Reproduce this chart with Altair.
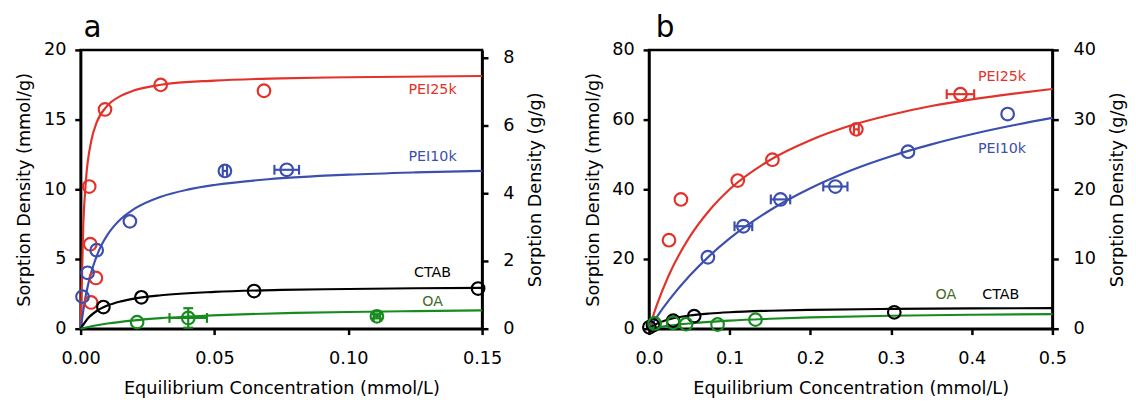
import altair as alt
import pandas as pd

FONT = "DejaVu Sans"
RED = "#e3322a"
BLUE = "#3c4fae"
BLACK = "#000000"
GREEN = "#168c1e"
OA_LABEL = "#3f6b26"
SERIES = ["PEI25k", "PEI10k", "CTAB", "OA"]
COLORS = [RED, BLUE, BLACK, GREEN]

# ---------------- Panel a data ----------------
A_PEI25K_X = [0.0032, 0.0036, 0.0057, 0.0039, 0.0091, 0.0299, 0.0685]
A_PEI25K_Y = [10.2, 6.06, 3.64, 1.88, 15.73, 17.49, 17.07]
A_PEI10K_X = [0.0007, 0.0026, 0.0060, 0.0184, 0.0539, 0.0770]
A_PEI10K_Y = [2.30, 4.01, 5.63, 7.70, 11.32, 11.40]
A_PEI10K_XERR = [0, 0, 0, 0, 0.0008, 0.0046]
A_CTAB_X = [0.0085, 0.0227, 0.0648, 0.1485]
A_CTAB_Y = [1.55, 2.25, 2.70, 2.88]
A_OA_X = [0.0211, 0.0402, 0.1107]
A_OA_Y = [0.47, 0.77, 0.89]
A_OA_XERR = [0, 0.0070, 0.0012]
A_OA_YERR = [0, 0.70, 0.15]

A_FIT_PEI25K_X = [0, 0.001, 0.002, 0.004, 0.006, 0.010, 0.015, 0.020, 0.030, 0.050, 0.075, 0.100, 0.150]
A_FIT_PEI25K_Y = [0, 7.5, 10.7, 13.5, 14.8, 16.0, 16.7, 17.1, 17.5, 17.8, 17.96, 18.04, 18.13]
A_FIT_PEI10K_X = [0, 0.002, 0.004, 0.006, 0.008, 0.010, 0.015, 0.020, 0.030, 0.040, 0.050, 0.070, 0.100, 0.125, 0.150]
A_FIT_PEI10K_Y = [0, 2.46, 4.07, 5.21, 6.07, 6.73, 7.87, 8.59, 9.47, 9.98, 10.31, 10.72, 11.05, 11.21, 11.32]
A_FIT_CTAB_X = [0, 0.003, 0.006, 0.010, 0.015, 0.020, 0.030, 0.050, 0.075, 0.100, 0.125, 0.150]
A_FIT_CTAB_Y = [0, 0.80, 1.27, 1.66, 1.96, 2.16, 2.40, 2.64, 2.78, 2.85, 2.90, 2.93]
A_FIT_OA_X = [0, 0.005, 0.010, 0.020, 0.030, 0.040, 0.060, 0.080, 0.100, 0.125, 0.150]
A_FIT_OA_Y = [0, 0.21, 0.37, 0.60, 0.76, 0.87, 1.03, 1.13, 1.20, 1.26, 1.31]

A_LABEL_TEXT = ["PEI25k", "PEI10k", "CTAB", "OA"]
A_LABEL_X = [0.1315, 0.1315, 0.1315, 0.1315]
A_LABEL_Y = [17.1, 12.3, 4.0, 1.9]

# ---------------- Panel b data ----------------
B_PEI25K_X = [0.0248, 0.0396, 0.110, 0.153, 0.257, 0.386]
B_PEI25K_Y = [25.4, 37.1, 42.5, 48.5, 57.2, 67.3]
B_PEI25K_XERR = [0, 0, 0, 0, 0.003, 0.017]
B_PEI10K_X = [0.073, 0.117, 0.163, 0.231, 0.321, 0.4445]
B_PEI10K_Y = [20.5, 29.4, 37.1, 40.8, 50.8, 61.6]
B_PEI10K_XERR = [0, 0.011, 0.012, 0.015, 0, 0]
B_CTAB_X = [0.0005, 0.005, 0.030, 0.056, 0.304]
B_CTAB_Y = [0.4, 1.0, 2.3, 3.6, 4.7]
B_OA_X = [0.0070, 0.030, 0.046, 0.085, 0.132]
B_OA_Y = [1.5, 1.7, 1.3, 1.2, 2.6]

B_FIT_PEI25K_X = [0, 0.010, 0.025, 0.050, 0.075, 0.100, 0.150, 0.200, 0.250, 0.300, 0.350, 0.400, 0.450, 0.500]
B_FIT_PEI25K_Y = [0, 7.0, 15.55, 26.2, 34.0, 40.0, 48.4, 54.1, 58.3, 61.4, 63.9, 65.8, 67.4, 68.8]
B_FIT_PEI10K_X = [0, 0.010, 0.025, 0.050, 0.075, 0.100, 0.150, 0.200, 0.250, 0.300, 0.350, 0.400, 0.450, 0.500]
B_FIT_PEI10K_Y = [0, 3.49, 8.25, 15.1, 20.9, 25.9, 34.0, 40.3, 45.4, 49.5, 52.9, 55.8, 58.3, 60.5]
B_FIT_CTAB_X = [0, 0.005, 0.010, 0.020, 0.030, 0.050, 0.075, 0.100, 0.150, 0.200, 0.300, 0.400, 0.500]
B_FIT_CTAB_Y = [0, 0.82, 1.45, 2.36, 2.98, 3.78, 4.36, 4.73, 5.15, 5.40, 5.67, 5.82, 5.90]
B_FIT_OA_X = [0, 0.010, 0.025, 0.050, 0.075, 0.100, 0.150, 0.200, 0.300, 0.400, 0.500]
B_FIT_OA_Y = [0, 0.39, 0.875, 1.50, 1.97, 2.33, 2.86, 3.23, 3.71, 4.00, 4.20]

B_LABEL_TEXT = ["PEI25k", "PEI10k", "OA", "CTAB"]
B_LABEL_X = [0.4375, 0.4375, 0.368, 0.436]
B_LABEL_Y = [72.1, 51.5, 9.6, 9.6]

LABEL_COLORS = {"PEI25k": RED, "PEI10k": BLUE, "CTAB": BLACK, "OA": OA_LABEL}


def points_df(groups):
    rows = []
    for name, xs, ys, xe, ye in groups:
        for i, (x, y) in enumerate(zip(xs, ys)):
            rows.append({"series": name, "x": x, "y": y,
                         "xerr": xe[i] if xe else 0, "yerr": ye[i] if ye else 0})
    return pd.DataFrame(rows)


def curves_df(groups):
    rows = []
    for name, xs, ys in groups:
        for i, (x, y) in enumerate(zip(xs, ys)):
            rows.append({"series": name, "x": x, "y": y, "o": i})
    return pd.DataFrame(rows)


def labels_df(texts, xs, ys):
    return pd.DataFrame({"text": texts, "x": xs, "y": ys,
                         "c": [LABEL_COLORS[t] for t in texts]})


VCAP = "M0,-1L0,1"
HCAP = "M-1,0L1,0"


def panel(pts, crv, lab, xdom, xticks, xfmt, ydom, yticks, y2dom, y2ticks,
          letter, letter_dx, width):
    xsc = alt.Scale(domain=xdom, nice=False, zero=False, padding=0)
    ysc = alt.Scale(domain=ydom, nice=False, padding=0)
    xaxis = alt.Axis(values=xticks, format=xfmt, title="Equilibrium Concentration (mmol/L)",
                     labelFlush=False)
    yaxis = alt.Axis(values=yticks, title="Sorption Density (mmol/g)", orient="left",
                     labelFlush=False)
    color = alt.Color("series:N", scale=alt.Scale(domain=SERIES, range=COLORS), legend=None)

    def X(f):
        return alt.X(f, type="quantitative", scale=xsc, axis=xaxis)

    def Y(f):
        return alt.Y(f, type="quantitative", scale=ysc, axis=yaxis)

    base = alt.Chart(pts)
    xerr = base.transform_filter("datum.xerr > 0").transform_calculate(
        xlo="datum.x - datum.xerr", xhi="datum.x + datum.xerr")
    yerr = base.transform_filter("datum.yerr > 0").transform_calculate(
        ylo="datum.y - datum.yerr", yhi="datum.y + datum.yerr")

    cap = dict(filled=False, size=100, strokeWidth=2.2, opacity=1)
    lines = alt.Chart(crv).mark_line(strokeWidth=2.2, interpolate="monotone").encode(
        x=X("x"), y=Y("y"), color=color, detail="series:N", order="o:Q")
    xrule = xerr.mark_rule(strokeWidth=2.2).encode(x=X("xlo"), x2="xhi:Q", y=Y("y"), color=color)
    xcap_lo = xerr.mark_point(shape=VCAP, **cap).encode(x=X("xlo"), y=Y("y"), color=color)
    xcap_hi = xerr.mark_point(shape=VCAP, **cap).encode(x=X("xhi"), y=Y("y"), color=color)
    yrule = yerr.mark_rule(strokeWidth=2.2).encode(x=X("x"), y=Y("ylo"), y2="yhi:Q", color=color)
    ycap_lo = yerr.mark_point(shape=HCAP, **cap).encode(x=X("x"), y=Y("ylo"), color=color)
    ycap_hi = yerr.mark_point(shape=HCAP, **cap).encode(x=X("x"), y=Y("yhi"), color=color)
    circles = base.mark_point(shape="circle", filled=False, size=165, strokeWidth=2.2, opacity=1).encode(
        x=X("x"), y=Y("y"), color=color)
    texts = alt.Chart(lab).mark_text(font=FONT, fontSize=14.5, align="center", baseline="middle").encode(
        x=X("x"), y=Y("y"), text="text:N", color=alt.Color("c:N", scale=None))

    main = alt.layer(lines, xrule, xcap_lo, xcap_hi, yrule, ycap_lo, ycap_hi, circles, texts)

    right = alt.Chart(pd.DataFrame({"v": [y2dom[0], y2dom[1]]})).mark_point(opacity=0).encode(
        x=alt.X("x0:Q", scale=xsc, axis=xaxis),
        y=alt.Y("v:Q", scale=alt.Scale(domain=y2dom, nice=False, padding=0),
                axis=alt.Axis(values=y2ticks, orient="right", title="Sorption Density (g/g)",
                              titleAngle=270, titleBaseline="top",
                              labelFlush=False, labelPadding=15, titlePadding=13))
    ).transform_calculate(x0="0")

    return alt.layer(main, right).resolve_scale(y="independent").properties(
        width=width, height=284,
        title=alt.Title(letter, anchor="start", frame="group", fontSize=30, font=FONT,
                        fontWeight="normal", baseline="bottom", offset=-32, dx=letter_dx,
                        color="black"))


pa = points_df([
    ("PEI25k", A_PEI25K_X, A_PEI25K_Y, None, None),
    ("PEI10k", A_PEI10K_X, A_PEI10K_Y, A_PEI10K_XERR, None),
    ("CTAB", A_CTAB_X, A_CTAB_Y, None, None),
    ("OA", A_OA_X, A_OA_Y, A_OA_XERR, A_OA_YERR),
])
ca = curves_df([
    ("PEI25k", A_FIT_PEI25K_X, A_FIT_PEI25K_Y),
    ("PEI10k", A_FIT_PEI10K_X, A_FIT_PEI10K_Y),
    ("CTAB", A_FIT_CTAB_X, A_FIT_CTAB_Y),
    ("OA", A_FIT_OA_X, A_FIT_OA_Y),
])
pb = points_df([
    ("PEI25k", B_PEI25K_X, B_PEI25K_Y, B_PEI25K_XERR, None),
    ("PEI10k", B_PEI10K_X, B_PEI10K_Y, B_PEI10K_XERR, None),
    ("CTAB", B_CTAB_X, B_CTAB_Y, None, None),
    ("OA", B_OA_X, B_OA_Y, None, None),
])
cb = curves_df([
    ("PEI25k", B_FIT_PEI25K_X, B_FIT_PEI25K_Y),
    ("PEI10k", B_FIT_PEI10K_X, B_FIT_PEI10K_Y),
    ("CTAB", B_FIT_CTAB_X, B_FIT_CTAB_Y),
    ("OA", B_FIT_OA_X, B_FIT_OA_Y),
])

chart_a = panel(pa, ca, labels_df(A_LABEL_TEXT, A_LABEL_X, A_LABEL_Y),
                [0, 0.15], [0, 0.05, 0.10, 0.15], ".2f",
                [0, 20], [0, 5, 10, 15, 20], [0, 8.23], [0, 2, 4, 6, 8], "a", 3, 409)
chart_b = panel(pb, cb, labels_df(B_LABEL_TEXT, B_LABEL_X, B_LABEL_Y),
                [0, 0.5], [0, 0.1, 0.2, 0.3, 0.4, 0.5], ".1f",
                [0, 80], [0, 20, 40, 60, 80], [0, 40], [0, 10, 20, 30, 40], "b", 7, 411)

chart = alt.hconcat(chart_a, chart_b, spacing=37).properties(
    padding={"left": 6, "top": 0, "right": 0, "bottom": 0}
).configure_view(stroke="black", strokeWidth=2.5).configure_axis(
    labelFont=FONT, titleFont=FONT, labelFontSize=18, titleFontSize=18,
    titleFontWeight="normal", labelColor="black", titleColor="black",
    domainColor="black", tickColor="black", domainWidth=2.5, tickWidth=2.5,
    tickSize=6, grid=False, labelPadding=5, titlePadding=10
).configure_axisLeft(labelPadding=9, titlePadding=10).configure_axisBottom(
    labelPadding=15, titlePadding=13)

chart.save("out.html", embed_options={"renderer": "svg", "actions": False})
